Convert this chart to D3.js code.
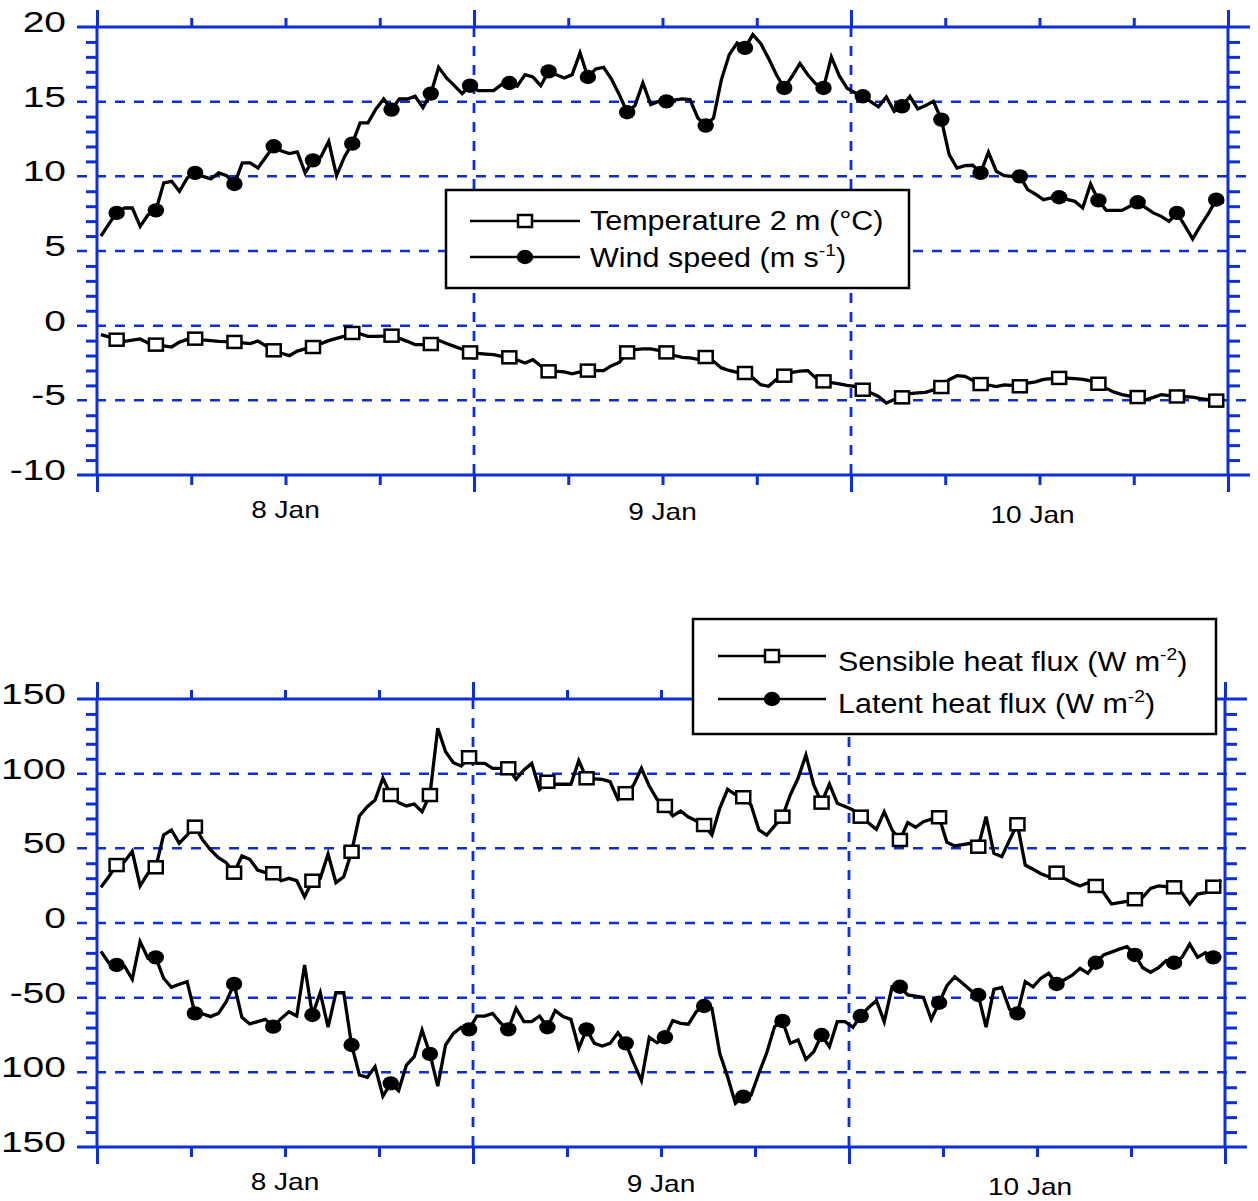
<!DOCTYPE html>
<html>
<head>
<meta charset="utf-8">
<script src="https://cdn.jsdelivr.net/npm/d3@7"></script>
<style>
  body { margin: 0; background: #fff; }
  svg { display: block; }
</style>
</head>
<body>
<div id="vis-container"></div>
<script>
const width = 1258,
    height = 1201;

// samples every half hour, first one at 00:15 on 7 Jan (hours since 7 Jan 00:00)
const t0 = 0.25, step = 0.5;
// a symbol on every 5th sample
const markEvery = 5, markOffset = 2;

const dayLabels = ["8 Jan", "9 Jan", "10 Jan"];
const dayLabelHours = [12, 36, 60];
const dayBoundHours = [0, 24, 48, 72];
const sixHourTicks = [6, 12, 18, 30, 36, 42, 54, 60, 66];

const tempTicks = [-10, -5, 0, 5, 10, 15, 20];
const fluxTicks = [-150, -100, -50, 0, 50, 100, 150];

const windSpeed = [
  6.0, 6.8, 7.55, 7.88, 7.88, 6.65, 7.43, 7.72, 9.56, 9.67,
  9.0, 9.9, 10.23, 10.0, 9.83, 10.23, 10.05, 9.49, 10.9, 10.9,
  10.56, 11.3, 12.01, 11.7, 11.52, 11.63, 10.23, 11.07, 11.3, 12.34,
  10.05, 11.3, 12.19, 13.58, 13.58, 14.5, 15.18, 14.47, 15.18, 15.18,
  15.36, 14.6, 15.54, 17.3, 16.59, 16.07, 15.54, 16.07, 15.74, 15.74,
  15.74, 16.14, 16.25, 16.03, 16.81, 16.65, 16.07, 17.03, 16.8, 16.59,
  16.81, 18.27, 16.65, 17.19, 17.3, 16.52, 15.47, 14.29, 14.74, 16.25,
  14.8, 15.02, 15.02, 15.1, 15.18, 15.14, 13.91, 13.4, 13.91, 16.48,
  18.15, 18.93, 18.6, 19.49, 18.9, 17.9, 16.8, 15.92, 16.7, 17.55,
  16.8, 16.2, 15.92, 18.0, 16.74, 15.9, 15.6, 15.36, 15.0, 14.65,
  15.32, 14.35, 14.69, 15.36, 14.51, 14.74, 15.02, 13.8, 11.45, 10.56,
  10.72, 10.74, 10.23, 11.61, 10.34, 10.05, 10.0, 10.0, 9.11, 8.8,
  8.44, 8.55, 8.6, 8.45, 8.33, 7.88, 9.49, 8.39, 7.72, 7.72,
  7.72, 8.0, 8.26, 7.9, 7.55, 7.32, 6.99, 7.55, 6.7, 5.81,
  6.7, 7.5, 8.44, 8.26
];

const temperature = [
  -0.6, -0.75, -0.94, -1.05, -0.97, -0.89, -1.16, -1.27, -1.35, -1.43,
  -1.1, -0.92, -0.87, -0.95, -1.0, -1.05, -1.07, -1.09, -1.15, -1.2,
  -1.03, -1.35, -1.65, -1.85, -2.01, -1.7, -1.55, -1.43, -1.2, -1.0,
  -0.85, -0.7, -0.49, -0.55, -0.72, -0.72, -0.7, -0.67, -0.85, -1.05,
  -1.27, -1.27, -1.23, -0.98, -1.2, -1.39, -1.58, -1.79, -1.85, -1.9,
  -1.94, -2.05, -2.12, -2.3, -2.5, -2.28, -2.7, -3.06, -3.06, -3.1,
  -3.22, -3.1, -3.01, -3.01, -3.01, -2.68, -2.46, -1.79, -1.6, -1.56,
  -1.56, -1.65, -1.79, -2.0, -2.12, -2.16, -2.25, -2.1, -2.39, -2.83,
  -3.0, -3.13, -3.17, -3.5, -3.95, -4.06, -3.6, -3.35, -3.13, -3.05,
  -3.01, -3.5, -3.73, -3.82, -3.9, -4.0, -4.06, -4.29, -4.5, -4.74,
  -5.18, -4.95, -4.8, -4.55, -4.5, -4.47, -4.3, -4.11, -3.62, -3.35,
  -3.39, -3.65, -3.91, -3.98, -4.08, -3.97, -4.0, -4.06, -3.84, -3.76,
  -3.6, -3.55, -3.5, -3.52, -3.55, -3.6, -3.7, -3.89, -4.2, -4.45,
  -4.62, -4.72, -4.78, -4.96, -4.8, -4.62, -4.68, -4.74, -4.76, -4.78,
  -4.88, -4.96, -5.02, -4.86
];

const sensibleFlux = [
  24, 31, 38.8, 41.1, 48, 24.8, 33.3, 37.3, 58.9, 62.3,
  53.4, 58.9, 64.5, 55.6, 48.9, 43.7, 40.4, 33.7, 44.9, 42.6,
  35.5, 33.7, 33.3, 28.3, 29.9, 28.3, 17.6, 28.3, 29.9, 46.2,
  27.0, 31.0, 47.7, 71.7, 77.9, 82.4, 97, 85.7, 80.6, 78.4,
  79.7, 74.5, 85.7, 130.4, 114.7, 107.3, 105.1, 111.0, 106.9, 106.9,
  103.6, 103.6, 103.6, 96.2, 102.5, 106.9, 89.5, 94.6, 92.9, 92.9,
  92.9, 108.7, 96.9, 96.5, 96.2, 94.6, 82.8, 86.9, 92.4, 103.6,
  91.7, 82.8, 78.4, 71.7, 75.0, 71, 68.5, 65.6, 58.9, 76.8,
  89.5, 86, 84.2, 79.0, 62.3, 58.9, 65, 71.2, 85.7, 96.9,
  112.5, 92.4, 80.6, 93.1, 80.2, 78, 75.7, 71.2, 67, 62.7,
  74.5, 62.3, 55.6, 67.2, 64.1, 67.8, 69.5, 70.8, 54, 51.6,
  52.5, 53.4, 51.1, 71.2, 46.7, 44.4, 55.6, 66.1, 38.8, 36,
  33, 31.0, 33.7, 29.9, 27, 24.8, 27.0, 24.8, 20.3, 12.7,
  13.6, 14.5, 15.9, 17.2, 23.2, 24.8, 24.3, 23.9, 20.3, 12.7,
  19.4, 20.3, 24.3, 28.8
];

const latentFlux = [
  -19, -26.6, -28.1, -28.8, -37.7, -12.5, -23.6, -23.0, -37.0, -43.1,
  -41, -39.3, -60.5, -60.9, -62.7, -60.5, -52.7, -40.8, -63.2, -67.6,
  -66, -64.5, -69.4, -64, -59.4, -62.3, -28.1, -61.6, -46.7, -69.8,
  -46.7, -46.7, -81.7, -101.8, -103.3, -96.2, -115.9, -107.4, -112.3, -95.1,
  -89.5, -71.7, -87.7, -109.2, -81.7, -73.9, -69.8, -71.2, -62.3, -62.3,
  -60.5, -66.8, -71.2, -57.1, -66.1, -66.1, -62.3, -69.8, -58.7, -62.7,
  -64.5, -83.9, -71.2, -80.6, -82.4, -80.6, -73.5, -80.6, -93.5, -105.6,
  -76.5, -80.2, -76.5, -65.4, -67.2, -67.8, -59.4, -55.6, -57.1, -87.3,
  -102.9, -120.7, -116.3, -115.2, -100.6, -86.8, -69.4, -65.6, -80.6, -78.3,
  -91.3, -86.2, -75.0, -82.8, -66.1, -66.1, -69.8, -62.3, -56.5, -52.0,
  -66.1, -42.7, -42.7, -48.2, -49, -49.8, -64.5, -53.4, -42, -36,
  -40.4, -44.9, -48.2, -69.8, -44.4, -43.1, -57.8, -60.5, -39.3, -42.7,
  -37, -33.7, -40.8, -38, -35, -30.3, -33.7, -26.6, -21.4, -19.5,
  -17.5, -15.9, -21.4, -30, -33, -30, -25.2, -26.6, -23.0, -14.1,
  -23.0, -19.9, -23.0, -23.0
];

const blue = "#0c2fdb";
const font = "'Liberation Sans', Arial, Helvetica, sans-serif";

var svg = d3.select("#vis-container").append("svg")
    .attr("width", width)
    .attr("height", height);

// text is drawn a bit wider than normal, like the original figure
function addText(parent, x, y, size, sx, anchor) {
  return parent.append("text")
      .attr("transform", `translate(${x},${y}) scale(${sx},1)`)
      .attr("text-anchor", anchor)
      .attr("font-family", font)
      .attr("font-size", size)
      .attr("fill", "#000");
}

function drawSymbol(g, kind, cx, cy) {
  if (kind === "circle") {
    g.append("ellipse")
        .attr("cx", cx).attr("cy", cy)
        .attr("rx", 8.2).attr("ry", 7.2)
        .attr("fill", "#000");
  } else {
    g.append("rect")
        .attr("x", cx - 7).attr("y", cy - 6)
        .attr("width", 14).attr("height", 12)
        .attr("fill", "#fff")
        .attr("stroke", "#000")
        .attr("stroke-width", 2.5);
  }
}

function drawPanel(p) {
  var x = d3.scaleLinear().domain([0, 72]).range([p.left, p.right]);
  var y = d3.scaleLinear().domain([p.yTicks[0], p.yTicks[p.yTicks.length - 1]]).range([p.bottom, p.top]);
  var g = svg.append("g");

  // dashed grid
  p.yTicks.slice(1, -1).forEach(v => {
    g.append("line")
        .attr("x1", p.left - 20).attr("x2", p.right + 22)
        .attr("y1", y(v)).attr("y2", y(v))
        .attr("stroke", blue).attr("stroke-width", 2.5)
        .attr("stroke-dasharray", "10,9");
  });
  [24, 48].forEach(h => {
    g.append("line")
        .attr("x1", x(h)).attr("x2", x(h))
        .attr("y1", p.top).attr("y2", p.bottom)
        .attr("stroke", blue).attr("stroke-width", 2.8)
        .attr("stroke-dasharray", "10,9");
  });

  // minor y ticks, left and right
  var minorY = d3.range(p.yTicks[0], p.yTicks[p.yTicks.length - 1] + 1e-9, p.minorStep)
      .filter(v => !p.yTicks.includes(v));
  g.append("g")
      .attr("transform", `translate(${p.left},0)`)
      .call(d3.axisLeft(y).tickValues(minorY).tickSize(11).tickFormat(""));
  g.append("g")
      .attr("transform", `translate(${p.right},0)`)
      .call(d3.axisRight(y).tickValues(minorY).tickSize(12).tickFormat(""));

  // time ticks, top and bottom
  g.append("g")
      .attr("transform", `translate(0,${p.top})`)
      .call(d3.axisTop(x).tickValues(sixHourTicks).tickSize(9).tickFormat(""));
  g.append("g")
      .attr("transform", `translate(0,${p.bottom})`)
      .call(d3.axisBottom(x).tickValues(sixHourTicks).tickSize(10).tickFormat(""));
  g.append("g")
      .attr("transform", `translate(0,${p.top})`)
      .call(d3.axisTop(x).tickValues(dayBoundHours).tickSize(17).tickFormat(""));
  g.append("g")
      .attr("transform", `translate(0,${p.bottom})`)
      .call(d3.axisBottom(x).tickValues(dayBoundHours).tickSize(17).tickFormat(""));

  g.selectAll(".domain").remove();
  g.selectAll(".tick line").attr("stroke", blue).attr("stroke-width", 3);

  // frame
  [p.top, p.bottom].forEach(yy => {
    g.append("line")
        .attr("x1", p.left - 20).attr("x2", p.right + 22)
        .attr("y1", yy).attr("y2", yy)
        .attr("stroke", blue).attr("stroke-width", 3);
  });
  [p.left, p.right].forEach(xx => {
    g.append("line")
        .attr("x1", xx).attr("x2", xx)
        .attr("y1", p.top).attr("y2", p.bottom)
        .attr("stroke", blue).attr("stroke-width", 3);
  });

  // tick labels (the minus of -100 / -150 runs off the left edge, as in the original)
  p.yTicks.forEach(v => {
    addText(g, 66, y(v) + 5, 30, 1.3, "end").text(String(v));
  });
  var labelDx = [0, 0, -7], labelDy = [43, 45, 48];
  dayLabels.forEach((lab, i) => {
    addText(g, x(dayLabelHours[i]) + labelDx[i], p.bottom + labelDy[i], 23, 1.22, "middle").text(lab);
  });

  // series
  var line = d3.line()
      .x((d, i) => x(t0 + i * step))
      .y(d => y(d));
  p.series.forEach(s => {
    g.append("path")
        .datum(s.values)
        .attr("d", line)
        .attr("fill", "none")
        .attr("stroke", "#000")
        .attr("stroke-width", 3.3);
    s.values.forEach((v, i) => {
      if ((i - markOffset) % markEvery === 0) drawSymbol(g, s.symbol, x(t0 + i * step), y(v));
    });
  });

  // legend
  var lg = g.append("g");
  lg.append("rect")
      .attr("x", p.legend.x).attr("y", p.legend.y)
      .attr("width", p.legend.w).attr("height", p.legend.h)
      .attr("fill", "#fff").attr("stroke", "#000").attr("stroke-width", 2.5);
  p.series.forEach((s, i) => {
    var ly = p.legend.rows[i];
    lg.append("line")
        .attr("x1", p.legend.x1).attr("x2", p.legend.x2)
        .attr("y1", ly).attr("y2", ly)
        .attr("stroke", "#000").attr("stroke-width", 2.5);
    drawSymbol(lg, s.symbol, (p.legend.x1 + p.legend.x2) / 2, ly);
    var t = addText(lg, p.legend.tx, ly + p.legend.baseDy[i], 27, 1.13, "start");
    t.append("tspan").text(s.label);
    if (s.sup) {
      t.append("tspan").attr("font-size", 17).attr("dy", -11).text(s.sup);
      t.append("tspan").attr("dy", 11).text(")");
    }
  });
}

drawPanel({
  left: 97, right: 1228, top: 27, bottom: 475,
  yTicks: tempTicks, minorStep: 1,
  series: [
    { values: temperature, symbol: "square", label: "Temperature 2 m (\u00B0C)" },
    { values: windSpeed, symbol: "circle", label: "Wind speed (m s", sup: "-1" }
  ],
  legend: { x: 446, y: 190, w: 463, h: 98, rows: [221, 257], x1: 470, x2: 580, tx: 590, baseDy: [9, 10] }
});

drawPanel({
  left: 97, right: 1225, top: 699, bottom: 1147,
  yTicks: fluxTicks, minorStep: 10,
  series: [
    { values: sensibleFlux, symbol: "square", label: "Sensible heat flux (W m", sup: "-2" },
    { values: latentFlux, symbol: "circle", label: "Latent heat flux (W m", sup: "-2" }
  ],
  legend: { x: 693, y: 619, w: 523, h: 115, rows: [656, 699], x1: 718, x2: 826, tx: 838, baseDy: [15, 14] }
});
</script>
</body>
</html>
